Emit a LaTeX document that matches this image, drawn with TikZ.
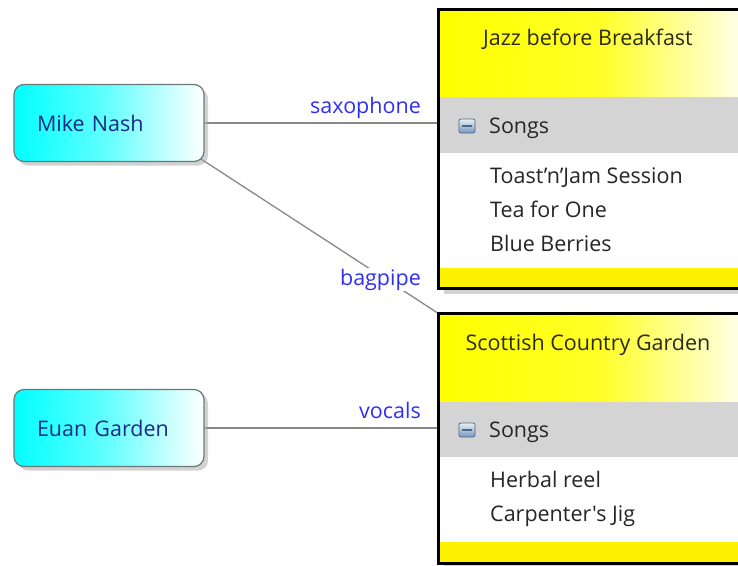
\documentclass[tikz,border=0pt]{standalone}
\usepackage{fontspec}
\setmainfont{Open Sans}[Ligatures=TeXOff]
\usetikzlibrary{positioning, calc, shadows, backgrounds}
\definecolor{LinkGrey}{HTML}{888888}
\definecolor{LabelBlue}{HTML}{2F2FF5}
\definecolor{BandGrey}{HTML}{D4D4D4}
\definecolor{PersonEdge}{HTML}{6A7878}
\definecolor{PersonText}{HTML}{1A2A85}
\definecolor{ItemText}{HTML}{262626}
\definecolor{TitleText}{HTML}{2B2B14}
\definecolor{IconEdge}{HTML}{4A6A8C}
\definecolor{IconTop}{HTML}{E8F0F8}
\definecolor{IconBottom}{HTML}{7895B8}
\newcommand{\uifont}{\fontsize{21.5}{26}\selectfont}

\tikzset{
  person/.style={draw=PersonEdge, line width=1.2pt, rounded corners=10pt,
    minimum width=190pt, minimum height=77pt, text width=144pt, inner xsep=23pt,
    align=left, text=PersonText, left color=cyan, right color=white,
    middle color=cyan!60,
    drop shadow={shadow xshift=4pt, shadow yshift=-4pt, fill=black!35}},
  album/.style={fill=white, minimum width=321.5pt, inner sep=0pt, outer sep=0pt,
    drop shadow={shadow xshift=5pt, shadow yshift=-5pt, fill=black!35}},
  albumedge/.style={draw=black, line width=3pt},
  header/.style={left color=yellow, right color=white, middle color=yellow!85},
  songicon/.style={draw=IconEdge, line width=0.8pt, rounded corners=2pt,
    minimum width=16pt, minimum height=14pt, inner sep=0pt,
    top color=IconTop, bottom color=IconBottom},
  item/.style={anchor=base west, text=ItemText, inner sep=0pt},
  title/.style={anchor=base, text=TitleText, inner sep=0pt},
  link/.style={draw=LinkGrey, line width=1.3pt},
  role/.style={text=LabelBlue, inner sep=1pt},
}

\begin{document}
\begin{tikzpicture}[x=1pt, y=-1pt, every node/.style={font=\uifont}]
\useasboundingbox (0,0) rectangle (738,565);
\clip (0,0) rectangle (738,565);

% musicians
\node[person] (mike) at (109,123) {Mike Nash};
\node[person] (euan) at (109,428) {Euan Garden};

% first album
\node[album, minimum height=279pt] (jazz) at (599.25,149) {};
\path[header] (440,11) rectangle (758.5,97);
\fill[BandGrey] (440,97) rectangle (758.5,153);
\fill[yellow] (440,268) rectangle (758.5,287);
\draw[albumedge] (jazz.north west) rectangle (jazz.south east);
\node[title] (jazz-title) at (588,45) {Jazz before Breakfast};
\node[songicon] (jazz-icon) at (467,126) {};
\draw[IconEdge, line width=1.6pt] ($(jazz-icon.west)+(3.5,0)$) -- ($(jazz-icon.east)+(-3.5,0)$);
\node[item] (jazz-songs) at (489,133) {Songs};
\foreach \song [count=\i] in {Toast’n’Jam Session, Tea for One, Blue Berries}
  \node[item] (jazz-song\i) at (490,149+34*\i) {\song};

% second album
\node[album, minimum height=250pt] (scottish) at (599.25,438.5) {};
\path[header] (440,315) rectangle (758.5,402);
\fill[BandGrey] (440,402) rectangle (758.5,457);
\fill[yellow] (440,542) rectangle (758.5,562);
\draw[albumedge] (scottish.north west) rectangle (scottish.south east);
\node[title] (scottish-title) at (588,350) {Scottish Country Garden};
\node[songicon] (scottish-icon) at (467,430) {};
\draw[IconEdge, line width=1.6pt] ($(scottish-icon.west)+(3.5,0)$) -- ($(scottish-icon.east)+(-3.5,0)$);
\node[item] (scottish-songs) at (489,437) {Songs};
\foreach \song [count=\i] in {Herbal reel, Carpenter's Jig}
  \node[item] (scottish-song\i) at (490,453+34*\i) {\song};

% who plays on what
\begin{scope}[on background layer]
\draw[link] (mike.east) -- (mike.east -| jazz.west)
  node[role, pos=1, anchor=base east, xshift=-16pt, yshift=10pt] {saxophone};
\draw[link] ($(mike.south east)+(-5,-4)$) -- (scottish.north west)
  node[role, pos=0.757, yshift=-4pt, fill=white] {bagpipe};
\draw[link] (euan.east) -- (euan.east -| scottish.west)
  node[role, pos=1, anchor=base east, xshift=-16pt, yshift=10pt] {vocals};
\end{scope}
\end{tikzpicture}
\end{document}
